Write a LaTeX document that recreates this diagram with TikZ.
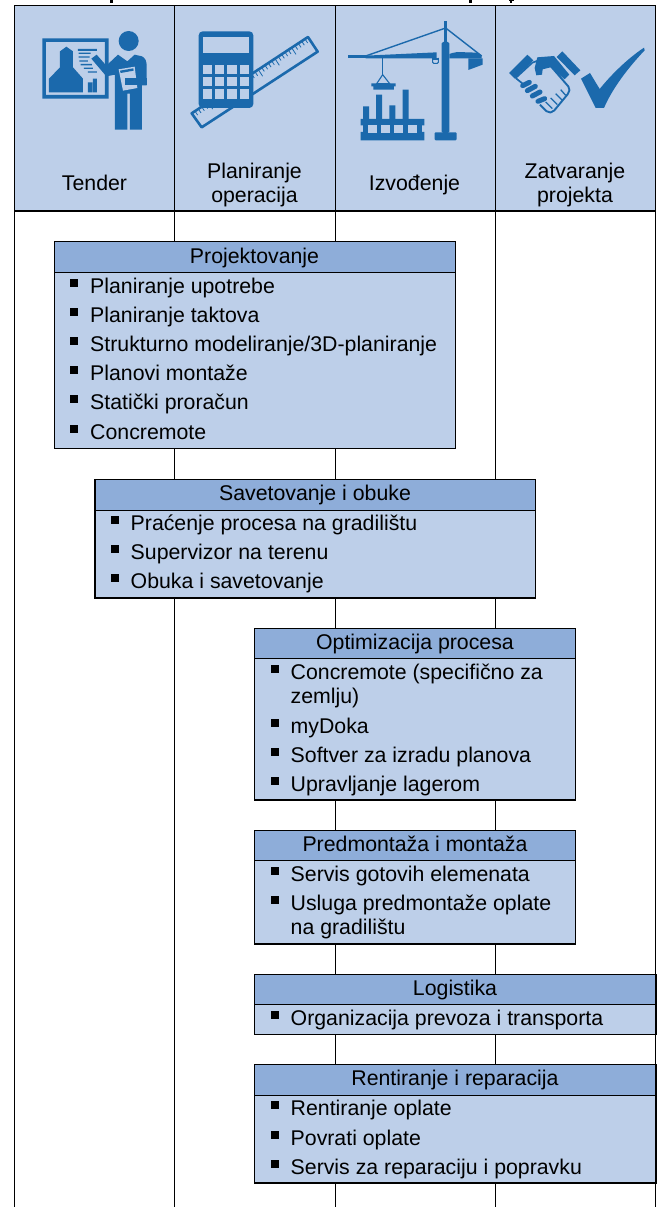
\documentclass[tikz,border=0pt]{standalone}
\usepackage{fontspec}
\setmainfont{Liberation Sans}
\usetikzlibrary{calc}
\definecolor{cellblue}{HTML}{BDCFE9}
\definecolor{headblue}{HTML}{8EADD9}
\definecolor{iconblue}{HTML}{1B69AC}
\tikzset{
  gridline/.style={draw=black,line width=1.2pt},
  headbox/.style={draw=black,line width=1.2pt,fill=headblue,anchor=north west,inner sep=0pt,outer sep=0pt},
  bodybox/.style={draw=black,line width=1.2pt,fill=cellblue,anchor=north west,inner sep=0pt,outer sep=0pt},
  lbl/.style={anchor=base,inner sep=0pt,text=black,yshift=-0.5pt,font=\fontsize{21.3}{24}\selectfont},
  itemtext/.style={anchor=base west,inner sep=0pt,text=black,yshift=-0.5pt,font=\fontsize{21.3}{24}\selectfont},
  bulletmark/.style={fill=black,inner sep=0pt,minimum size=8pt},
  ic/.style={fill=iconblue,draw=none},
  icl/.style={fill=cellblue,draw=none},
}
\newcommand{\bul}[4]{%
  \node[itemtext] (#1) at (#2,#3) {#4};
  \node[bulletmark] (#1b) at ($(#2,#3)+(-16,-10)$) {};}
\newcommand{\servicebox}[6]{% name x y w headh bodyh
  \node[bodybox,minimum width=#4pt,minimum height=#6pt] (#1body) at (#2,#3+#5) {};
  \node[headbox,minimum width=#4pt,minimum height=#5pt] (#1head) at (#2,#3) {};}
\begin{document}
\begin{tikzpicture}[x=1pt,y=-1pt]
\useasboundingbox (0,0) rectangle (659,1207);
\fill[white] (0,0) rectangle (659,1207);
% header band
\coordinate (hTL) at (14.5,5.5);
\coordinate (hBR) at (655.5,211);
\fill[cellblue] (hTL) rectangle (hBR);
% remnants of the cut-off title
\fill[black] (110,0) rectangle (113,3);
\fill[black] (469,0) rectangle (472,3);
\fill[black] (509,0) rectangle (514,1.5);
\fill[black] (509.5,1.5) rectangle (512,3);
% grid
\foreach \n/\x in {a/14.5,b/174.5,c/335.5,d/495.5,e/655.5}{
  \coordinate (\n t) at (\x,5.5);
  \coordinate (\n b) at (\x,1207);
  \draw[gridline] (\n t) -- (\n b);
}
\coordinate (tl) at (14.5,5.5);
\coordinate (tr) at (655.5,5.5);
\coordinate (ml) at (14.5,211);
\coordinate (mr) at (655.5,211);
\draw[gridline] (tl) -- (tr);
\draw[gridline] (ml) -- (mr);
% column labels
\node[lbl] (tender) at (94.5,190) {Tender};
\node[lbl] (plan1) at (254.5,178) {Planiranje};
\node[lbl] (plan2) at (254.5,202) {operacija};
\node[lbl] (izvod) at (414.5,190) {Izvođenje};
\node[lbl] (zat1) at (575,178) {Zatvaranje};
\node[lbl] (zat2) at (575,202) {projekta};
% ---- icon 1: presenter
\begin{scope}[shift={(38,28)},x=0.3333pt,y=-0.3333pt]
\fill[ic,even odd rule] (13,31) rectangle (212,212) (24,42) rectangle (201,201);
\fill[ic] (33,193)--(33,152)--(66,118)--(66,70)--(85,56)--(105,70)--(105,118)--(135,152)--(135,193)--cycle;
\fill[ic] (150,163) rectangle (163,193) (165,152) rectangle (177,193);
\fill[ic] (120,63) rectangle (177,69) (122,74) rectangle (158,78) (122,85) rectangle (155,89)
 (124,97) rectangle (150,101) (128,108) rectangle (162,112) (138,119) rectangle (165,123) (150,130) rectangle (177,134);
\fill[ic] (272,39) circle[radius=30];
\fill[ic] (160,92)--(176,80)--(205,113)--(240,80)--(268,100)--(290,80)--(312,85)
  .. controls (322,90) and (326,100) .. (326,112)--(326,172)--(312,172)--(312,305)--(276,305)--(276,197)--(268,197)--(268,305)--(231,305)--(231,140)--(205,145)--cycle;
\fill[icl] (242,124)--(290,116)--(298,180)--(255,188)--cycle;
\fill[ic] (262,150) rectangle (326,172);
\fill[ic] (246,128)--(286,121)--(287,128)--(248,135)--cycle;
\end{scope}
% ---- icon 2: calculator and ruler
\begin{scope}[shift={(186,28)},x=0.3333pt,y=-0.3333pt]
\draw[draw=iconblue,line width=2.6pt,fill=cellblue,line join=round] (17,256)--(366,27)--(395,71)--(47,298)--cycle;
\foreach \i in {1,...,34}{
  \pgfmathsetmacro\xa{17+\i*10}
  \pgfmathsetmacro\ya{256-\i*6.56}
  \pgfmathsetmacro\Lx{mod(\i,5)==0?13:8}
  \pgfmathsetmacro\Ly{mod(\i,5)==0?20:12}
  \draw[iconblue,line width=0.8pt] (\xa,\ya) -- ++(\Lx,\Ly);
}
\fill[ic,rounded corners=4pt] (38,10) rectangle (202,240);
\fill[icl] (50,27) rectangle (190,74);
\foreach \cx in {50,87,124,161}{
  \foreach \cy in {110,147,184}{
    \fill[icl] (\cx,\cy) rectangle ++(28,28);
  }
}
\end{scope}
% ---- icon 3: crane
\begin{scope}[shift={(344,18)},x=0.3333pt,y=-0.3333pt]
\fill[ic] (300,10) rectangle (309,75);
\fill[ic,rounded corners=1.5pt] (293,72) rectangle (316,345);
\fill[ic] (13,112) rectangle (70,121);
\fill[ic] (65,113)--(278,103)--(278,121)--(65,121)--cycle;
\fill[ic] (325,105)--(340,102)--(400,104)--(413,112)--(413,121)--(316,121)--(316,108)--cycle;
\fill[ic] (373,121)--(416,121)--(416,140)--(373,156)--cycle;
\draw[iconblue,line width=1.4pt] (65,114) -- (305,30) -- (413,114);
\draw[iconblue,line width=1.1pt,rounded corners=1pt] (266,120) -- (266,136) -- (283,136) -- (283,120);
\fill[ic] (268,120) rectangle (281,126);
\draw[iconblue,line width=1.1pt] (116,121) -- (116,170);
\draw[iconblue,line width=1.1pt] (116,170) -- (98,197) -- (137,197) -- cycle;
\fill[ic] (82,196) rectangle (155,205) (88,205) rectangle (150,215);
\fill[ic,rounded corners=1pt] (272,343) rectangle (338,367);
\fill[ic] (57,265) rectangle (75,305) (96,230) rectangle (114,305) (136,262) rectangle (154,305) (176,215) rectangle (194,305);
\fill[ic] (50,303) rectangle (241,322) (50,342) rectangle (241,367);
\fill[ic] (57,320) rectangle (234,345);
\foreach \wx in {72,111,151,191}{
  \fill[icl] (\wx,321) rectangle ++(27,24);
}
\end{scope}
% ---- icon 4: handshake and check
\begin{scope}[shift={(504,42)},x=0.3333pt,y=-0.3333pt]
\fill[ic] (231,110)--(258,93)--(287,141) .. controls (320,100) and (370,50) .. (420,17)--(422,25)
  .. controls (370,80) and (325,140) .. (300,198)--(275,198)--cycle;
\fill[ic] (15,93)--(70,38)--(88,55)--(32,110)--cycle;
\fill[ic] (158,45)--(175,28)--(229,85)--(212,100)--cycle;
\draw[iconblue,line width=1.7pt,line join=round] (35,108)--(85,62)--(105,55);
\draw[iconblue,line width=1.7pt,line join=round] (35,108)--(62,130);
\fill[ic] (100,46)--(150,42)--(196,98)--(182,112)--(140,76)--(116,82)--(114,98)--(97,100)--(92,78)--cycle;
\draw[iconblue,line width=1.9pt,line join=round,rounded corners=2pt] (140,72)--(197,138)--(195,152)--(147,210)--(132,212)--(108,188);
\draw[iconblue,line width=5pt,line cap=round] (56,131)--(76,121);
\draw[iconblue,line width=5pt,line cap=round] (70,146)--(94,133);
\draw[iconblue,line width=5pt,line cap=round] (85,162)--(108,150);
\draw[iconblue,line width=5pt,line cap=round] (102,178)--(122,170);
\draw[iconblue,line width=1.3pt] (125,180)--(145,200) (140,168)--(160,188) (155,155)--(175,175) (170,143)--(185,160);
\end{scope}
% ---- Projektovanje
\servicebox{proj}{54.5}{241.5}{401}{31}{176}
\node[lbl] (projt) at (254.5,263) {Projektovanje};
\bul{p1}{90}{293}{Planiranje upotrebe}
\bul{p2}{90}{322}{Planiranje taktova}
\bul{p3}{90}{351}{Strukturno modeliranje/3D-planiranje}
\bul{p4}{90}{380}{Planovi montaže}
\bul{p5}{90}{409}{Statički proračun}
\bul{p6}{90}{439}{Concremote}
% ---- Savetovanje
\servicebox{sav}{95}{479.5}{440.5}{31}{87.5}
\node[lbl] (savt) at (315,500) {Savetovanje i obuke};
\bul{s1}{130.5}{530}{Praćenje procesa na gradilištu}
\bul{s2}{130.5}{559}{Supervizor na terenu}
\bul{s3}{130.5}{588}{Obuka i savetovanje}
% ---- Optimizacija
\servicebox{opt}{254.5}{628.5}{321}{30}{141.5}
\node[lbl] (optt) at (415,649) {Optimizacija procesa};
\bul{o1}{290.5}{679}{Concremote (specifično za}
\node[itemtext] (o1c) at (290.5,703) {zemlju)};
\bul{o2}{290.5}{733}{myDoka}
\bul{o3}{290.5}{762}{Softver za izradu planova}
\bul{o4}{290.5}{791}{Upravljanje lagerom}
% ---- Predmontaža
\servicebox{pre}{254.5}{830.5}{321}{30}{83.5}
\node[lbl] (pret) at (415,851) {Predmontaža i montaža};
\bul{m1}{290.5}{881}{Servis gotovih elemenata}
\bul{m2}{290.5}{910}{Usluga predmontaže oplate}
\node[itemtext] (m2c) at (290.5,934) {na gradilištu};
% ---- Logistika
\servicebox{log}{254.5}{974.5}{401.5}{30}{30}
\node[lbl] (logt) at (455,995) {Logistika};
\bul{l1}{290.5}{1025}{Organizacija prevoza i transporta}
% ---- Rentiranje
\servicebox{ren}{254.5}{1064.5}{401.5}{31}{87.5}
\node[lbl] (rent) at (455,1085) {Rentiranje i reparacija};
\bul{r1}{290.5}{1115}{Rentiranje oplate}
\bul{r2}{290.5}{1144.5}{Povrati oplate}
\bul{r3}{290.5}{1174}{Servis za reparaciju i popravku}
\end{tikzpicture}
\end{document}
